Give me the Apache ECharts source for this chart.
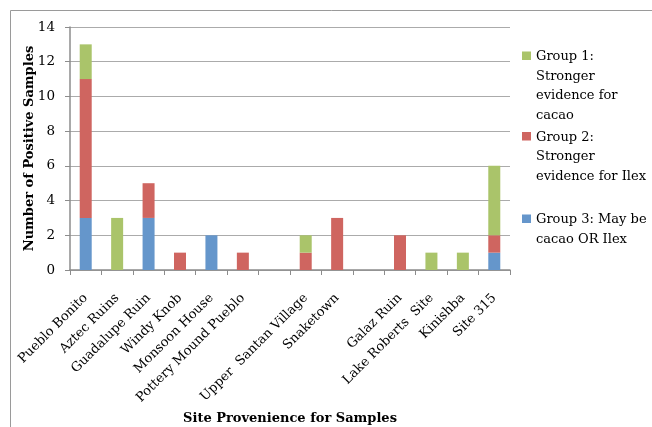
<!DOCTYPE html>
<html>
<head>
<meta charset="utf-8">
<script src="https://cdn.jsdelivr.net/npm/echarts@6/dist/echarts.min.js"></script>
<style>
  html, body { margin: 0; padding: 0; background: #fff; }
  #chart { width: 652px; height: 427px; }
</style>
</head>
<body>
<div id="chart"></div>
<script>
// Sites along the x axis (two unnamed gap slots keep the original spacing)
const sites = [
  'Pueblo Bonito', 'Aztec Ruins', 'Guadalupe Ruin', 'Windy Knob', 'Monsoon House',
  'Pottery Mound Pueblo', ' ', 'Upper  Santan Village', 'Snaketown', '  ',
  'Galaz Ruin', 'Lake Roberts  Site', 'Kinishba', 'Site 315'
];

// Positive sample counts per group, one value per site
const group1Cacao = [2, 3, 0, 0, 0, 0, 0, 1, 0, 0, 0, 1, 1, 4];
const group2Ilex  = [8, 0, 2, 1, 0, 1, 0, 1, 3, 0, 2, 0, 0, 1];
const group3Either = [3, 0, 3, 0, 2, 0, 0, 0, 0, 0, 0, 0, 0, 1];

const yTicks = [0, 2, 4, 6, 8, 10, 12, 14];

const names = {
  g1: 'Group 1: Stronger evidence for cacao',
  g2: 'Group 2: Stronger evidence for Ilex',
  g3: 'Group 3: May be cacao OR Ilex'
};
const legendLines = {};
legendLines[names.g1] = ['Group 1:', 'Stronger', 'evidence for', 'cacao'];
legendLines[names.g2] = ['Group 2:', 'Stronger', 'evidence for Ilex'];
legendLines[names.g3] = ['Group 3: May be', 'cacao OR Ilex'];

const colors = { g1: '#AAC46A', g2: '#CF6560', g3: '#6596CB' };

const serif = '"DejaVu Serif", "Liberation Serif", serif';
const LINE_H = 19.5;

// Legend swatch sits beside the first text line: the invisible end points
// stretch the icon box to the full height of the wrapped label.
function swatch(lines) {
  const h = lines * LINE_H;
  return 'path://M0,0h9M0,4.5h9v8.5h-9zM0,' + h + 'h9';
}

function legendFor(name, top) {
  const n = legendLines[name].length;
  return {
    data: [name],
    left: 522,
    top: top,
    padding: 0,
    orient: 'vertical',
    selectedMode: false,
    itemWidth: 9,
    itemHeight: n * LINE_H,
    icon: swatch(n),
    formatter: (s) => legendLines[s].join('\n'),
    textStyle: { fontFamily: serif, fontSize: 13, color: '#000', lineHeight: LINE_H }
  };
}

const chart = echarts.init(document.getElementById('chart'), null, { renderer: 'canvas' });

chart.setOption({
  animation: false,
  backgroundColor: '#fff',
  graphic: [{
    type: 'rect',
    shape: { x: 10.5, y: 10.5, width: 700, height: 500 },
    style: { fill: 'none', stroke: '#9a9a9a', lineWidth: 1 },
    silent: true
  }],
  grid: {
    left: 70, right: 142, top: 27, bottom: 157,
    containLabel: false,
    outerBoundsMode: 'none'
  },
  legend: [
    legendFor(names.g1, 47),
    legendFor(names.g2, 127.5),
    legendFor(names.g3, 210)
  ],
  xAxis: {
    type: 'category',
    data: sites,
    boundaryGap: true,
    name: 'Site Provenience for Samples',
    nameLocation: 'middle',
    nameGap: 142,
    nameMoveOverlap: false,
    nameTextStyle: { fontFamily: serif, fontSize: 13, fontWeight: 'bold', color: '#000' },
    axisLine: { lineStyle: { color: '#8c8c8c', width: 1.5 } },
    axisTick: { show: true, length: 5, interval: 0, lineStyle: { color: '#8c8c8c' } },
    axisLabel: {
      interval: 0, rotate: 45, margin: 26,
      fontFamily: serif, fontSize: 13, color: '#000'
    },
    splitLine: { show: false }
  },
  yAxis: {
    type: 'value',
    min: yTicks[0],
    max: yTicks[yTicks.length - 1],
    interval: yTicks[1] - yTicks[0],
    name: 'Number of Positive Samples',
    nameLocation: 'middle',
    nameGap: 34,
    nameMoveOverlap: false,
    nameTextStyle: { fontFamily: serif, fontSize: 13, fontWeight: 'bold', color: '#000' },
    axisLine: { show: true, lineStyle: { color: '#8c8c8c', width: 1.5 } },
    axisTick: { show: true, length: 5, lineStyle: { color: '#8c8c8c' } },
    axisLabel: { margin: 15, fontFamily: serif, fontSize: 13.5, color: '#000' },
    splitLine: { show: true, lineStyle: { color: '#ababab', width: 1 } }
  },
  series: [
    { name: names.g3, type: 'bar', stack: 'total', barWidth: 12, data: group3Either, itemStyle: { color: colors.g3 } },
    { name: names.g2, type: 'bar', stack: 'total', barWidth: 12, data: group2Ilex, itemStyle: { color: colors.g2 } },
    { name: names.g1, type: 'bar', stack: 'total', barWidth: 12, data: group1Cacao, itemStyle: { color: colors.g1 } }
  ]
});
</script>
</body>
</html>
